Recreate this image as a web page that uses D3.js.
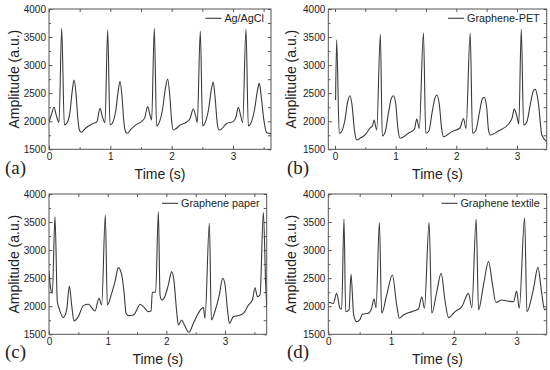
<!DOCTYPE html>
<html>
<head>
<meta charset="utf-8">
<script src="https://cdn.jsdelivr.net/npm/d3@7"></script>
<style>
  body { margin: 0; background: #fff; }
  svg { display: block; }
</style>
</head>
<body>
<script>
// values (time in s, amplitude in a.u.)
const timeA = [0, 0.04, 0.082, 0.12, 0.163, 0.207, 0.25, 0.29, 0.34, 0.38, 0.408, 0.44, 0.47, 0.5, 0.525, 0.6, 0.7, 0.78,
  0.832, 0.87, 0.913, 0.957, 0.995, 1.03, 1.09, 1.13, 1.158, 1.19, 1.22, 1.25, 1.277, 1.33, 1.42, 1.5, 1.56,
  1.609, 1.645, 1.674, 1.717, 1.755, 1.79, 1.85, 1.9, 1.935, 1.97, 2.0, 2.027, 2.06, 2.136, 2.245, 2.3,
  2.353, 2.39, 2.418, 2.467, 2.505, 2.54, 2.6, 2.65, 2.679, 2.71, 2.745, 2.772, 2.8, 2.897, 3.005, 3.05,
  3.087, 3.125, 3.158, 3.212, 3.25, 3.29, 3.35, 3.4, 3.429, 3.46, 3.5, 3.549, 3.62];
const ampA = [1995, 2120, 2250, 2100, 1980, 3656, 1935, 1965, 2150, 2550, 2735, 2500, 2050, 1830, 1805, 1880, 1950, 1990,
  2230, 2080, 1975, 3626, 1934, 1960, 2200, 2550, 2711, 2450, 2000, 1810, 1785, 1850, 1940, 1990, 2060,
  2260, 2120, 2023, 3656, 1916, 1960, 2200, 2600, 2753, 2450, 2000, 1844, 1860, 1930, 1987, 2050,
  2219, 2100, 1975, 3608, 1916, 1960, 2200, 2580, 2700, 2400, 1950, 1844, 1850, 1960, 1993, 2080,
  2250, 2100, 1975, 3644, 1916, 1960, 2200, 2550, 2676, 2450, 2050, 1797, 1780];

const timeB = [0.01, 0.028, 0.07, 0.1, 0.16, 0.21, 0.248, 0.28, 0.32, 0.358, 0.42, 0.5, 0.58, 0.62, 0.644, 0.688,
  0.748, 0.78, 0.83, 0.88, 0.93, 0.963, 1.0, 1.04, 1.073, 1.21, 1.31, 1.348, 1.39,
  1.458, 1.497, 1.55, 1.6, 1.65, 1.679, 1.72, 1.76, 1.789, 1.926, 2.06, 2.119, 2.16,
  2.229, 2.267, 2.32, 2.38, 2.43, 2.46, 2.5, 2.53, 2.559, 2.7, 2.86, 2.92, 2.955, 3.0, 3.03,
  3.071, 3.11, 3.16, 3.22, 3.27, 3.302, 3.35, 3.41, 3.49];
const ampB = [2380, 3450, 1785, 1800, 2000, 2350, 2455, 2300, 1850, 1665, 1700, 1760, 1880, 1920, 2020, 1845,
  3548, 1738, 1815, 2140, 2410, 2455, 2320, 1845, 1696, 1785, 1860, 2040, 1870,
  3578, 1785, 1830, 2150, 2420, 2467, 2300, 1850, 1725, 1815, 1880, 2050, 1870,
  3566, 1785, 1830, 2150, 2400, 2425, 2250, 1850, 1755, 1830, 1950, 2060, 2215, 2080, 1950,
  3638, 1934, 1980, 2300, 2540, 2568, 2350, 1755, 1636];

const timeC = [0, 0.028, 0.057, 0.102, 0.142, 0.176, 0.244, 0.301, 0.347, 0.386, 0.426, 0.5, 0.585, 0.67, 0.784, 0.852, 0.898,
  0.96, 0.994, 1.068, 1.125, 1.182, 1.239, 1.278, 1.313, 1.352, 1.438, 1.523, 1.551, 1.608, 1.693, 1.739, 1.761, 1.818,
  1.864, 1.892, 1.92, 1.96, 2.034, 2.091, 2.131, 2.176, 2.205, 2.261, 2.307, 2.386, 2.46, 2.545, 2.602, 2.631, 2.659,
  2.733, 2.767, 2.83, 2.903, 2.96, 3.0, 3.045, 3.074, 3.142, 3.227, 3.313, 3.398, 3.466, 3.511, 3.551, 3.597,
  3.653, 3.693, 3.71];
const ampC = [2628, 2320, 2230, 3596, 2082, 1950, 1797, 1934, 2361, 2025, 1738, 1815, 2011, 2035, 1916, 2141, 2023,
  3626, 2023, 2230, 2438, 2688, 2557, 2260, 1874, 1833, 1844, 1993, 2035, 1993, 1904, 1916, 2248, 2248,
  3685, 2201, 2112, 2141, 2379, 2616, 2438, 1904, 1666, 1755, 1666, 1536, 1696, 1874, 1963, 1975, 1785,
  3477, 1755, 1916, 2201, 2498, 2379, 1904, 1696, 1815, 1833, 1874, 2020, 2112, 2330, 2170, 2201,
  3673, 2379, 1993];

const timeD = [0, 0.08, 0.133, 0.186, 0.213, 0.25, 0.277, 0.33, 0.362, 0.404, 0.452, 0.5, 0.543, 0.638, 0.69, 0.729, 0.761,
  0.814, 0.851, 0.93, 1.021, 1.09, 1.133, 1.197, 1.33, 1.436, 1.489, 1.532,
  1.606, 1.649, 1.729, 1.798, 1.862, 1.915, 2.021, 2.128, 2.234, 2.287,
  2.356, 2.394, 2.473, 2.553, 2.617, 2.67, 2.766, 2.872, 2.952, 3.0, 3.043,
  3.128, 3.165, 3.271, 3.34, 3.404, 3.447, 3.484];
const ampD = [2070, 2050, 2230, 1963, 1950, 3555, 1904, 1934, 2568, 1844, 1725, 1755, 1856, 1875, 1963, 2130, 1975,
  3490, 1875, 2200, 2557, 2020, 1785, 1845, 1904, 1950, 2170, 1963,
  3490, 1875, 2260, 2587, 2080, 1797, 1904, 1993, 2230, 1975,
  3549, 1934, 2380, 2795, 2380, 2070, 2110, 2090, 2080, 2270, 1963,
  3578, 1904, 2320, 2693, 2200, 1934, 1963];

const legendNames = ["Ag/AgCl", "Graphene-PET", "Graphene paper", "Graphene textile"];
const panelTags = ["(a)", "(b)", "(c)", "(d)"];
const yTicks = [1500, 2000, 2500, 3000, 3500, 4000];
const xTicks = [0, 1, 2, 3];

const sans = "Arial, 'Liberation Sans', sans-serif";
const serif = "'Times New Roman', 'Liberation Serif', serif";
const ink = "#3a3a3a";

const svg = d3.select("body").append("svg")
    .attr("width", 550)
    .attr("height", 370);

// layout for each panel
const panels = [
  {t: timeA, v: ampA, dom: [0, 3.62],     x0: 49,    x1: 271,   y0: 9,   y1: 149.3, tagX: 5,   tagY: 174, labX: 18.5},
  {t: timeB, v: ampB, dom: [-0.11, 3.49], x0: 328.3, x1: 546.7, y0: 9,   y1: 149.3, tagX: 287, tagY: 174, labX: 296},
  {t: timeC, v: ampC, dom: [0, 3.71],     x0: 49,    x1: 266.7, y0: 194, y1: 334.3, tagX: 5,   tagY: 358, labX: 18.5},
  {t: timeD, v: ampD, dom: [0, 3.48],     x0: 328.3, x1: 546.7, y0: 194, y1: 334.3, tagX: 287, tagY: 358, labX: 296}
];

panels.forEach((p, i) => drawPanel(p, i));

function drawPanel(p, i) {
  const x = d3.scaleLinear().domain(p.dom).range([p.x0, p.x1]);
  const y = d3.scaleLinear().domain([1500, 4000]).range([p.y1, p.y0]);
  const g = svg.append("g");

  const xMinor = d3.range(Math.ceil(p.dom[0] * 2) / 2, p.dom[1] + 1e-9, 0.5).filter(d => d % 1 !== 0);
  const yMinor = d3.range(1750, 4000, 500);

  const style = sel => {
    sel.select(".domain").remove();
    sel.selectAll("line").attr("stroke", "#555");
    sel.selectAll("text").attr("font-family", sans).attr("font-size", 10).attr("fill", "#222");
  };

  // major + minor ticks on all four sides, pointing in
  g.append("g").attr("transform", `translate(0,${p.y1})`)
      .call(d3.axisBottom(x).tickValues(xTicks).tickSize(-3.5).tickPadding(4).tickFormat(d3.format("d")))
      .call(style);
  g.append("g").attr("transform", `translate(0,${p.y1})`)
      .call(d3.axisBottom(x).tickValues(xMinor).tickSize(-2).tickFormat(""))
      .call(style);
  g.append("g").attr("transform", `translate(0,${p.y0})`)
      .call(d3.axisTop(x).tickValues(xTicks.concat(xMinor)).tickSize(-3).tickFormat(""))
      .call(style);
  g.append("g").attr("transform", `translate(${p.x0},0)`)
      .call(d3.axisLeft(y).tickValues(yTicks).tickSize(-3.5).tickPadding(3).tickFormat(d3.format("d")))
      .call(style);
  g.append("g").attr("transform", `translate(${p.x0},0)`)
      .call(d3.axisLeft(y).tickValues(yMinor).tickSize(-2).tickFormat(""))
      .call(style);
  g.append("g").attr("transform", `translate(${p.x1},0)`)
      .call(d3.axisRight(y).tickValues(yTicks.concat(yMinor)).tickSize(-3).tickFormat(""))
      .call(style);

  // frame
  g.append("rect")
      .attr("x", p.x0).attr("y", p.y0)
      .attr("width", p.x1 - p.x0).attr("height", p.y1 - p.y0)
      .attr("fill", "none").attr("stroke", "#555").attr("stroke-width", 1);

  // the trace
  const clipId = "clip" + i;
  svg.append("clipPath").attr("id", clipId).append("rect")
      .attr("x", p.x0).attr("y", p.y0)
      .attr("width", p.x1 - p.x0).attr("height", p.y1 - p.y0);

  const line = d3.line()
      .x(d => x(d[0]))
      .y(d => y(d[1]))
      .curve(d3.curveMonotoneX);

  g.append("path")
      .datum(d3.zip(p.t, p.v))
      .attr("clip-path", `url(#${clipId})`)
      .attr("fill", "none")
      .attr("stroke", ink)
      .attr("stroke-width", 1.1)
      .attr("d", line);

  // legend, top right
  const lt = g.append("text")
      .attr("x", p.x1 - 7).attr("y", p.y0 + 12.5)
      .attr("text-anchor", "end")
      .attr("font-family", sans).attr("font-size", 10.8)
      .attr("fill", "#222")
      .text(legendNames[i]);
  const tx = p.x1 - 7 - lt.node().getComputedTextLength();
  g.append("line")
      .attr("x1", tx - 19).attr("x2", tx - 3)
      .attr("y1", p.y0 + 9.3).attr("y2", p.y0 + 9.3)
      .attr("stroke", ink).attr("stroke-width", 1.1);

  // axis titles
  g.append("text")
      .attr("x", (p.x0 + p.x1) / 2).attr("y", p.y1 + 29.7)
      .attr("text-anchor", "middle")
      .attr("font-family", sans).attr("font-size", 14)
      .attr("fill", "#222")
      .text("Time (s)");
  g.append("text")
      .attr("transform", `translate(${p.labX},${(p.y0 + p.y1) / 2}) rotate(-90)`)
      .attr("text-anchor", "middle")
      .attr("font-family", sans).attr("font-size", 14)
      .attr("fill", "#222")
      .text("Amplitude (a.u.)");

  // panel letter
  g.append("text")
      .attr("x", p.tagX).attr("y", p.tagY)
      .attr("font-family", serif).attr("font-size", 19)
      .attr("fill", "#222")
      .text(panelTags[i]);
}
</script>
</body>
</html>
